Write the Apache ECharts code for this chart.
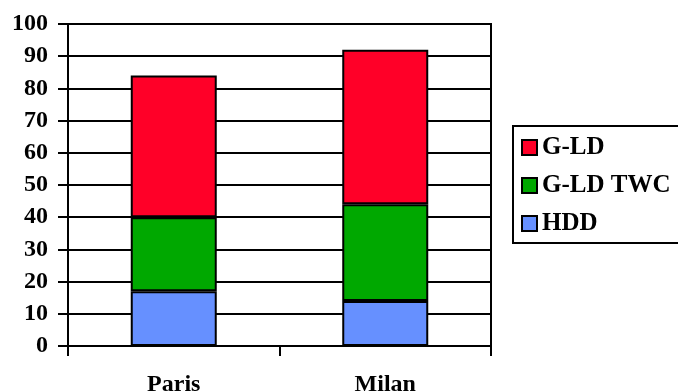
<!DOCTYPE html>
<html>
<head>
<meta charset="utf-8">
<script src="https://cdn.jsdelivr.net/npm/echarts@6/dist/echarts.min.js"></script>
<style>
  html, body { margin: 0; padding: 0; background: #fff; }
  #chart { width: 678px; height: 392px; }
</style>
</head>
<body>
<div id="chart"></div>
<script>
// Cities along the x axis
const categories = ['Paris', 'Milan'];
// Stacked components, bottom to top
const hdd = [17, 14];
const gldTwc = [23, 30];
const gld = [44, 48];
// Value axis ticks
const yTicks = [0, 10, 20, 30, 40, 50, 60, 70, 80, 90, 100];

const FONT = "'Liberation Serif', 'Times New Roman', serif";
const colors = { gld: '#FF0028', twc: '#00A800', hdd: '#6690FF' };

const chart = echarts.init(document.getElementById('chart'), null, { renderer: 'canvas' });

function barSeries(name, data, color) {
  return {
    name: name,
    type: 'bar',
    stack: 'total',
    data: data,
    barWidth: 86,
    itemStyle: { color: color, borderColor: '#000', borderWidth: 2 }
  };
}

chart.setOption({
  animation: false,
  backgroundColor: '#fff',
  grid: {
    left: 68, right: 187, top: 24, bottom: 46,
    containLabel: false,
    outerBoundsMode: 'none',
    show: true, borderColor: '#000', borderWidth: 2, backgroundColor: 'transparent'
  },
  legend: {
    orient: 'vertical',
    left: 513, top: 126,
    data: ['G-LD', 'G-LD TWC', 'HDD'],
    itemWidth: 15, itemHeight: 15,
    itemGap: 13,
    padding: [9, 60, 7, 8],
    borderColor: '#000', borderWidth: 2,
    icon: 'rect',
    textStyle: { fontFamily: FONT, fontWeight: 'bold', fontSize: 25, color: '#000' }
  },
  xAxis: {
    type: 'category',
    data: categories,
    boundaryGap: true,
    axisLine: { lineStyle: { color: '#000', width: 2 } },
    axisTick: { show: true, length: 10, interval: 0, lineStyle: { color: '#000', width: 2 } },
    axisLabel: { margin: 27, fontFamily: FONT, fontWeight: 'bold', fontSize: 24, color: '#000' }
  },
  yAxis: {
    type: 'value',
    min: yTicks[0], max: yTicks[yTicks.length - 1], interval: yTicks[1] - yTicks[0],
    axisLine: { show: true, lineStyle: { color: '#000', width: 2 } },
    axisTick: { show: true, length: 10, lineStyle: { color: '#000', width: 2 } },
    splitLine: { show: true, lineStyle: { color: '#000', width: 2 } },
    axisLabel: { margin: 20, fontFamily: FONT, fontWeight: 'bold', fontSize: 24, color: '#000' }
  },
  series: [
    barSeries('HDD', hdd, colors.hdd),
    barSeries('G-LD TWC', gldTwc, colors.twc),
    barSeries('G-LD', gld, colors.gld)
  ]
});
</script>
</body>
</html>
